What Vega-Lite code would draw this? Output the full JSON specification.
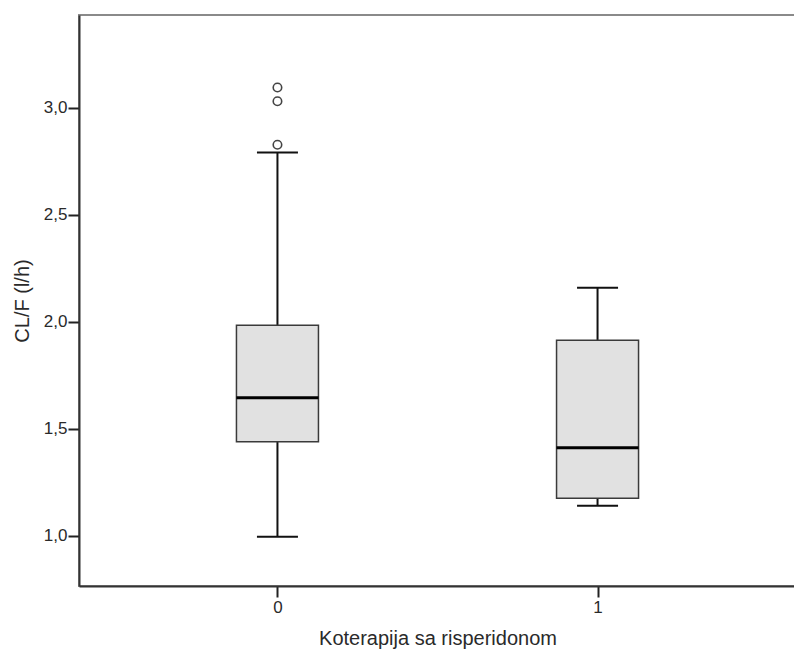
{
  "$schema": "https://vega.github.io/schema/vega-lite/v6.json",
  "width": 717,
  "height": 571,
  "autosize": {"type": "none"},
  "padding": {"left": 79, "top": 15, "right": 0, "bottom": 65},
  "background": "white",
  "config": {
    "view": {"stroke": "#8a8a8a", "strokeWidth": 2},
    "font": "Liberation Sans",
    "axis": {
      "labelFont": "Liberation Sans",
      "titleFont": "Liberation Sans",
      "labelFontSize": 17,
      "titleFontSize": 20,
      "labelColor": "#2a2a2a",
      "titleColor": "#2a2a2a",
      "titleFontWeight": "normal",
      "domainColor": "#333333",
      "domainWidth": 2,
      "tickColor": "#222222",
      "tickWidth": 2,
      "grid": false
    }
  },
  "datasets": {
    "boxes": [
      {"group": "0", "lo": 0.995, "q1": 1.439, "median": 1.645, "q3": 1.983, "hi": 2.79},
      {"group": "1", "lo": 1.14, "q1": 1.175, "median": 1.411, "q3": 1.913, "hi": 2.159}
    ],
    "outliers": [
      {"group": "0", "value": 3.094},
      {"group": "0", "value": 3.03},
      {"group": "0", "value": 2.827}
    ]
  },
  "encoding": {
    "x": {
      "field": "group",
      "type": "ordinal",
      "scale": {"type": "point", "domain": ["0", "1"], "padding": 0.62},
      "axis": {
        "title": "Koterapija sa risperidonom",
        "labelAngle": 0,
        "tickSize": 11,
        "labelPadding": 2,
        "titlePadding": 13
      }
    }
  },
  "layer": [
    {
      "data": {"name": "boxes"},
      "mark": {"type": "rule", "color": "#111111", "strokeWidth": 2},
      "encoding": {
        "y": {
          "field": "lo",
          "type": "quantitative",
          "scale": {"domain": [0.765, 3.433], "nice": false, "zero": false},
          "axis": {
            "title": "CL/F (l/h)",
            "values": [1.0, 1.5, 2.0, 2.5, 3.0],
            "labelExpr": "replace(format(datum.value, '.1f'), '.', ',')",
            "tickSize": 11,
            "labelPadding": 1,
            "titlePadding": 11
          }
        },
        "y2": {"field": "hi"}
      }
    },
    {
      "data": {"name": "boxes"},
      "mark": {"type": "bar", "size": 82, "fill": "#e1e1e1", "stroke": "#3a3a3a", "strokeWidth": 1.5},
      "encoding": {
        "y": {"field": "q1", "type": "quantitative"},
        "y2": {"field": "q3"}
      }
    },
    {
      "data": {"name": "boxes"},
      "mark": {"type": "tick", "size": 82, "thickness": 3, "color": "#000000", "opacity": 1},
      "encoding": {"y": {"field": "median", "type": "quantitative"}}
    },
    {
      "data": {"name": "boxes"},
      "mark": {"type": "tick", "size": 41, "thickness": 2, "color": "#111111", "opacity": 1},
      "encoding": {"y": {"field": "lo", "type": "quantitative"}}
    },
    {
      "data": {"name": "boxes"},
      "mark": {"type": "tick", "size": 41, "thickness": 2, "color": "#111111", "opacity": 1},
      "encoding": {"y": {"field": "hi", "type": "quantitative"}}
    },
    {
      "data": {"name": "outliers"},
      "mark": {"type": "point", "shape": "circle", "filled": false, "size": 72, "stroke": "#444444", "strokeWidth": 1.6, "opacity": 1},
      "encoding": {"y": {"field": "value", "type": "quantitative"}}
    }
  ]
}
